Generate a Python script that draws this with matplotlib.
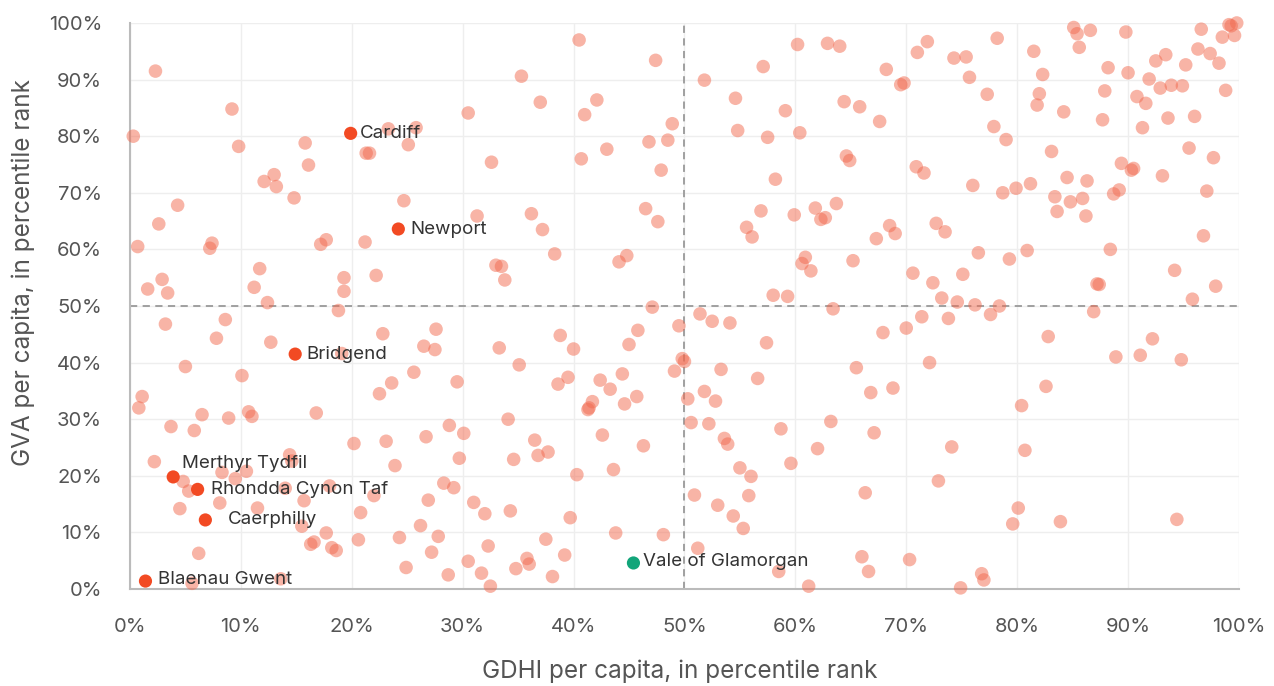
import matplotlib
matplotlib.use("Agg")
import matplotlib.pyplot as plt
from matplotlib.ticker import FuncFormatter

plt.rcParams['font.family'] = ['Inter', 'DejaVu Sans']

# Other local authorities: (GDHI percentile rank, GVA percentile rank)
points = [
    (0.3, 80), (0.7, 60.5), (0.8, 32), (1.1, 34), (1.6, 53), (2.2, 22.5), (2.3, 91.5),
    (2.6, 64.5), (2.9, 54.7), (3.2, 46.8), (3.4, 52.3), (3.7, 28.7), (4.3, 67.8),
    (4.5, 14.2), (4.8, 19), (5.0, 39.3), (5.3, 17.3), (5.6, 1.0), (5.8, 28), (6.2, 6.3),
    (6.5, 30.8), (7.2, 60.2), (7.4, 61.1), (7.8, 44.3), (8.1, 15.2), (8.3, 20.6),
    (8.6, 47.6), (8.9, 30.2), (9.2, 84.8), (9.5, 19.5), (9.8, 78.2), (10.1, 37.7),
    (10.5, 20.8), (10.7, 31.3), (11.0, 30.5),
    (11.2, 53.3), (11.5, 14.3), (11.7, 56.6), (12.1, 72), (12.4, 50.6), (12.7, 43.6),
    (13.0, 73.2), (13.2, 71.1), (13.6, 1.8), (14.0, 17.8), (14.4, 23.7), (14.6, 22.6),
    (14.8, 69.1), (15.5, 11.1), (15.7, 15.6), (15.8, 78.8), (16.1, 74.9), (16.3, 7.9),
    (16.6, 8.3), (16.8, 31.1), (17.2, 60.9), (17.7, 61.7), (17.7, 9.9), (18.0, 18.2),
    (18.2, 7.3), (18.6, 6.8), (18.8, 49.2), (19.1, 41.6), (19.3, 55), (19.3, 52.6),
    (20.2, 25.7),
    (20.6, 8.7), (20.8, 13.5), (21.2, 61.3), (21.3, 77), (21.6, 77), (22.0, 16.5),
    (22.2, 55.4), (22.5, 34.5), (22.8, 45.1), (23.1, 26.1), (23.3, 81.3), (23.6, 36.4),
    (23.9, 21.8), (24.3, 9.1), (24.7, 68.6), (24.9, 3.8), (25.1, 78.5), (25.6, 38.3),
    (25.8, 81.5), (26.2, 11.2), (26.5, 42.9), (26.7, 26.9), (26.9, 15.7), (27.2, 6.5),
    (27.5, 42.3), (27.6, 45.9), (27.8, 9.3), (28.3, 18.7), (28.8, 28.9), (28.7, 2.5),
    (29.2, 17.9), (29.5, 36.6), (29.7, 23.1), (30.1, 27.5), (30.5, 84.1), (30.5, 4.9),
    (31.0, 15.3), (31.3, 65.9), (31.7, 2.8), (32.0, 13.3), (32.3, 7.6), (32.5, 0.5),
    (32.6, 75.4), (33.0, 57.2), (33.3, 42.6), (33.5, 57), (33.8, 54.6), (34.1, 30),
    (34.3, 13.8), (34.6, 22.9), (34.8, 3.6), (35.1, 39.6), (35.3, 90.6), (35.8, 5.4),
    (36.0, 4.4), (36.2, 66.3), (36.5, 26.3), (36.8, 23.6), (37.0, 86), (37.2, 63.5),
    (37.5, 8.8), (37.7, 24.2), (38.1, 2.2), (38.3, 59.2), (38.6, 36.2), (38.8, 44.8),
    (39.2, 6.0), (39.5, 37.4), (39.7, 12.6), (40.0, 42.4), (40.3, 20.2), (40.5, 97),
    (40.7, 76), (41.0, 83.8), (41.3, 31.7), (41.4, 32),
    (41.7, 33.1), (42.1, 86.4), (42.4, 36.9), (42.6, 27.2), (43.0, 77.7), (43.3, 35.3),
    (43.6, 21.1), (43.8, 9.9), (44.1, 57.8), (44.4, 38), (44.6, 32.7), (44.8, 58.9),
    (45.0, 43.2), (45.8, 45.7), (45.7, 34), (46.3, 25.3), (46.5, 67.2),
    (46.8, 79), (47.1, 49.8), (47.4, 93.4), (47.6, 64.9), (47.9, 74), (48.1, 9.6),
    (48.5, 79.3), (48.9, 82.2), (49.1, 38.5), (49.5, 46.5), (49.8, 40.7), (50.0, 40.2),
    (50.3, 33.6), (50.6, 29.4), (50.9, 16.6), (51.2, 7.2), (51.4, 48.6), (51.8, 34.9),
    (51.8, 89.9), (52.2, 29.2), (52.5, 47.3), (52.8, 33.2), (53.0, 14.8), (53.3, 38.8),
    (53.6, 26.6), (53.9, 25.6), (54.1, 47), (54.4, 12.9), (54.6, 86.7), (54.8, 81),
    (55.0, 21.4), (55.3, 10.7), (55.6, 63.9), (55.8, 16.5), (56.1, 62.2), (56.0, 19.9),
    (56.6, 37.2), (56.9, 66.8), (57.1, 92.3), (57.4, 43.5), (57.5, 79.8), (58.0, 51.9),
    (58.2, 72.4), (58.5, 3.1), (58.7, 28.3), (59.1, 84.5), (59.3, 51.7), (59.6, 22.2),
    (59.9, 66.1), (60.2, 96.2), (60.4, 80.6),
    (60.6, 57.5), (60.9, 58.6), (61.2, 0.5), (61.4, 56.2), (61.8, 67.3), (62.0, 24.8),
    (62.3, 65.3), (62.7, 65.6), (62.9, 96.4), (63.2, 29.6), (63.4, 49.5), (63.7, 68.1),
    (64.0, 95.9), (64.4, 86.1), (64.6, 76.5), (64.9, 75.7), (65.2, 58), (65.5, 39.1),
    (65.8, 85.2), (66.0, 5.7), (66.3, 17), (66.6, 3.1), (66.8, 34.7), (67.1, 27.6),
    (67.3, 61.9), (67.6, 82.6), (67.9, 45.3), (68.2, 91.8), (68.5, 64.2), (68.8, 35.5),
    (69.0, 62.8), (69.5, 89.1), (69.8, 89.4), (70.0, 46.1), (70.3, 5.2),
    (70.6, 55.8), (70.9, 74.6), (71.0, 94.8), (71.4, 48.1), (71.6, 73.5), (71.9, 96.7),
    (72.1, 40), (72.4, 54.1), (72.7, 64.6), (72.9, 19.1), (73.2, 51.4), (73.5, 63.1),
    (73.8, 47.8), (74.1, 25.1), (74.3, 93.8), (74.6, 50.7), (74.9, 0.2), (75.1, 55.6),
    (75.4, 94), (75.7, 90.4), (76.0, 71.3), (76.2, 50.2), (76.5, 59.4), (76.8, 2.7),
    (77.0, 1.6), (77.3, 87.4), (77.6, 48.5), (77.9, 81.7), (78.2, 97.3), (78.4, 50),
    (78.7, 70), (79.0, 79.4), (79.3, 58.3), (79.6, 11.5), (79.9, 70.8), (80.1, 14.3),
    (80.4, 32.4), (80.7, 24.5),
    (80.9, 59.8), (81.2, 71.6), (81.5, 95), (81.8, 85.5), (82.0, 87.5), (82.3, 90.9),
    (82.6, 35.8), (82.8, 44.6), (83.1, 77.3), (83.4, 69.3), (83.6, 66.7), (83.9, 11.9),
    (84.2, 84.3), (84.5, 72.7), (84.8, 68.4), (85.1, 99.2), (85.4, 98.1), (85.6, 95.7),
    (85.9, 69), (86.2, 65.9), (86.3, 72.1), (86.6, 98.7), (86.9, 49), (87.2, 53.9),
    (87.4, 53.8), (87.7, 82.9), (87.9, 88), (88.2, 92.1), (88.4, 60), (88.7, 69.8),
    (88.9, 41), (89.2, 70.5), (89.4, 75.2), (89.8, 98.4), (90.0, 91.2), (90.3, 74),
    (90.5, 74.3),
    (90.8, 87), (91.1, 41.3), (91.3, 81.5), (91.6, 85.8), (91.9, 90.1), (92.2, 44.2),
    (92.5, 93.3), (92.9, 88.5), (93.1, 73), (93.4, 94.4), (93.6, 83.2), (93.9, 89),
    (94.2, 56.3), (94.4, 12.3), (94.8, 40.5), (94.9, 88.9), (95.2, 92.6), (95.5, 77.9),
    (95.8, 51.2), (96.0, 83.5), (96.3, 95.4), (96.6, 98.9), (96.8, 62.4), (97.1, 70.3),
    (97.4, 94.6), (97.7, 76.2), (97.9, 53.5), (98.2, 92.9), (98.5, 97.5), (98.8, 88.1),
    (99.1, 99.7), (99.3, 99.5), (99.6, 97.8), (99.8, 100),
]
other_gdhi = [p[0] for p in points]
other_gva = [p[1] for p in points]

# Highlighted Welsh authorities
names = ["Cardiff", "Newport", "Bridgend", "Merthyr Tydfil", "Rhondda Cynon Taf",
         "Caerphilly", "Blaenau Gwent"]
hl_gdhi = [19.9, 24.2, 14.9, 3.9, 6.1, 6.8, 1.4]
hl_gva = [80.5, 63.6, 41.5, 19.8, 17.6, 12.2, 1.4]
# label offsets (points)
label_dx = [7, 9, 8, 6, 10, 16.5, 9]
label_dy = [0, 0, 0, 9.5, 0, 0, 1]

green_name = "Vale of Glamorgan"
green_gdhi = 45.4
green_gva = 4.6

xticks = list(range(0, 101, 10))
yticks = list(range(0, 101, 10))

fig = plt.figure(figsize=(12.74, 6.86), dpi=100)
ax = fig.add_axes([0.1020, 0.1414, 0.8705, 0.8251])

ax.scatter(other_gdhi, other_gva, s=95, color='#f26a4f', alpha=0.5,
           edgecolors='none', clip_on=False, zorder=3)
ax.scatter(hl_gdhi, hl_gva, s=90, color='#f24a23', edgecolors='none',
           clip_on=False, zorder=4)
ax.scatter([green_gdhi], [green_gva], s=90, color='#12a57a', edgecolors='none',
           clip_on=False, zorder=4)

for n, x, y, dx, dy in zip(names, hl_gdhi, hl_gva, label_dx, label_dy):
    ax.annotate(n, (x, y), xytext=(dx, dy), textcoords='offset points',
                ha='left', va='center', fontsize=13.5, color='#333333', zorder=5)
ax.annotate(green_name, (green_gdhi, green_gva), xytext=(7, 1),
            textcoords='offset points', ha='left', va='center', fontsize=13.5,
            color='#333333', zorder=5)

ax.axvline(50, color='#999999', linestyle=(0, (4, 3)), linewidth=1.3, zorder=2)
ax.axhline(50, color='#999999', linestyle=(0, (4, 3)), linewidth=1.3, zorder=2)

ax.set_xlim(0, 100)
ax.set_ylim(0, 100)
ax.set_xticks(xticks)
ax.set_yticks(yticks)
fmt = FuncFormatter(lambda v, _: f"{int(v)}%")
ax.xaxis.set_major_formatter(fmt)
ax.yaxis.set_major_formatter(fmt)
ax.grid(True, color='#eeeeee', linewidth=1, zorder=0)
ax.set_axisbelow(True)

for s in ['top', 'right']:
    ax.spines[s].set_visible(False)
for s in ['left', 'bottom']:
    ax.spines[s].set_color('#bbbbbb')
    ax.spines[s].set_linewidth(1.5)

ax.tick_params(axis='both', length=0, labelsize=14.5, labelcolor='#555555')
ax.tick_params(axis='x', pad=21)
ax.tick_params(axis='y', pad=20)
ax.set_xlabel("GDHI per capita, in percentile rank", fontsize=17.5, color='#555555')
ax.set_ylabel("GVA per capita, in percentile rank", fontsize=17.5, color='#555555')
ax.xaxis.set_label_coords(0.496, -0.145)
ax.yaxis.set_label_coords(-0.0965, 0.56)
ax.xaxis.label.set_va('center')
ax.yaxis.label.set_va('center')

fig.savefig("out.png", dpi=100)
